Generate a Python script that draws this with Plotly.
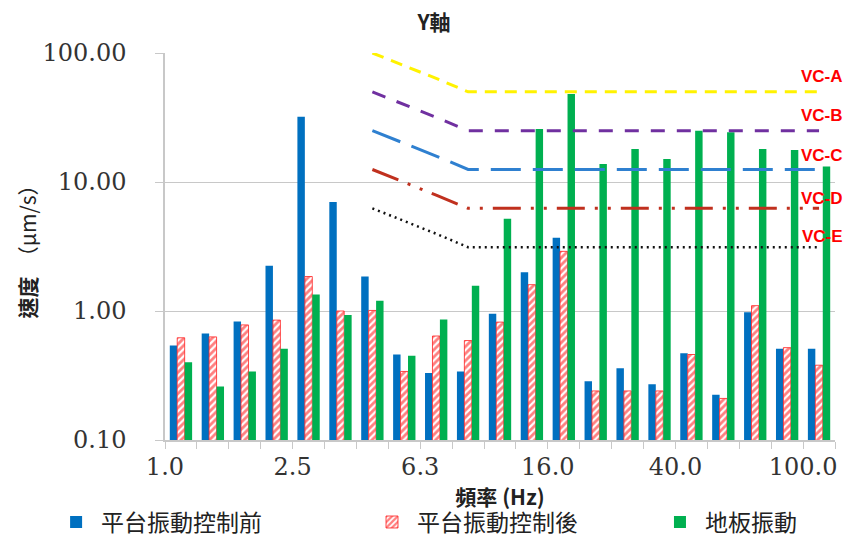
import math
import plotly.graph_objects as go

freqs = ["1.0", "1.25", "1.6", "2.0", "2.5", "3.15", "4.0", "5.0", "6.3", "8.0", "10.0",
         "12.5", "16.0", "20.0", "25.0", "31.5", "40.0", "50.0", "63.0", "80.0", "100.0"]
tick_labels = {"1.0": "1.0", "2.5": "2.5", "6.3": "6.3", "16.0": "16.0", "40.0": "40.0", "100.0": "100.0"}

before = [0.54, 0.67, 0.83, 2.24, 32.0, 7.0, 1.85, 0.46, 0.33, 0.34, 0.95,
          2.0, 3.7, 0.285, 0.36, 0.27, 0.47, 0.224, 0.98, 0.51, 0.51]
after = [0.62, 0.63, 0.78, 0.85, 1.85, 1.0, 1.01, 0.34, 0.64, 0.59, 0.82,
         1.6, 2.9, 0.24, 0.24, 0.24, 0.46, 0.21, 1.10, 0.52, 0.38]
floor = [0.40, 0.26, 0.34, 0.51, 1.34, 0.93, 1.2, 0.45, 0.86, 1.57, 5.2,
         25.8, 48.0, 13.8, 18.0, 15.1, 25.0, 24.3, 18.0, 17.7, 13.2]

vc_freqs = ["4.0", "5.0", "6.3", "8.0", "10.0", "12.5", "16.0", "20.0", "25.0", "31.5",
            "40.0", "50.0", "63.0", "80.0", "100.0"]
vc_a = [100, 80, 63.5, 50, 50, 50, 50, 50, 50, 50, 50, 50, 50, 50, 50]
vc_b = [50, 40, 31.7, 25, 25, 25, 25, 25, 25, 25, 25, 25, 25, 25, 25]
vc_c = [25, 20, 15.9, 12.5, 12.5, 12.5, 12.5, 12.5, 12.5, 12.5, 12.5, 12.5, 12.5, 12.5, 12.5]
vc_d = [12.5, 10, 7.9, 6.25, 6.25, 6.25, 6.25, 6.25, 6.25, 6.25, 6.25, 6.25, 6.25, 6.25, 6.25]
vc_e = [6.25, 5, 3.97, 3.12, 3.12, 3.12, 3.12, 3.12, 3.12, 3.12, 3.12, 3.12, 3.12, 3.12, 3.12]
vc_names = ["VC-A", "VC-B", "VC-C", "VC-D", "VC-E"]
vc_label_y = [66, 33, 16, 7.4, 3.8]

CJK = "Noto Sans CJK TC"
SERIF = "DejaVu Serif"

fig = go.Figure()
fig.add_trace(go.Bar(x=freqs, y=before, name="平台振動控制前", legend="legend",
                     marker=dict(color="#0070C0", line=dict(width=0))))
fig.add_trace(go.Bar(x=freqs, y=after, name="平台振動控制後", legend="legend2",
                     marker=dict(color="white",
                                 line=dict(color="#FF2020", width=0.8),
                                 pattern=dict(shape="/", fgcolor="#FF0000", bgcolor="white",
                                              size=5, solidity=0.55))))
fig.add_trace(go.Bar(x=freqs, y=floor, name="地板振動", legend="legend3",
                     marker=dict(color="#00B050", line=dict(width=0))))

styles = [
    ("#FFF200", "12px,8px", 3),
    ("#7030A0", "14px,12px", 3),
    ("#2F80D0", "30px,12px", 3),
    ("#C0301E", "28px,10px,3px,10px,3px,10px", 3),
    ("#111111", "2px,4px", 2.5),
]
for vals, (col, dash, w) in zip([vc_a, vc_b, vc_c, vc_d, vc_e], styles):
    fig.add_trace(go.Scatter(x=vc_freqs, y=vals, mode="lines", showlegend=False,
                             line=dict(color=col, dash=dash, width=w)))

for name, yv in zip(vc_names, vc_label_y):
    fig.add_annotation(x=1.015, xref="paper", y=math.log10(yv), yref="y", text=name,
                       showarrow=False, xanchor="right",
                       font=dict(family="Liberation Sans", size=17, color="#FF0000", weight="bold"))

legend_common = dict(orientation="h", xanchor="left", y=-0.212, yanchor="middle",
                     font=dict(family=CJK, size=23, color="#222"), itemwidth=40,
                     bgcolor="rgba(0,0,0,0)")

fig.update_layout(
    width=851, height=541,
    margin=dict(l=165, r=16, t=53, b=101, autoexpand=False),
    paper_bgcolor="white", plot_bgcolor="white",
    barmode="group", bargap=0.3, bargroupgap=0,
    title=dict(text="<b>Y軸</b>", x=0.51, xanchor="center", y=0.958, yanchor="middle",
               font=dict(family=CJK, size=21, color="#222")),
    legend=dict(x=-0.170, **legend_common),
    legend2=dict(x=0.3015, **legend_common),
    legend3=dict(x=0.7313, **legend_common),
    font=dict(family=SERIF, color="#333"),
)
fig.update_xaxes(
    type="category", categoryorder="array", categoryarray=freqs,
    tickmode="array", tickvals=freqs, ticktext=[tick_labels.get(f, "") for f in freqs],
    tickangle=0, automargin=False, ticklabelstandoff=4, ticklabelshift=-16,
    tickson="boundaries", ticks="outside", ticklen=7, tickcolor="#C8C8C8",
    showline=True, linecolor="#C8C8C8", linewidth=1.5, showgrid=False,
    tickfont=dict(family=SERIF, size=24, color="#333"),
    title=dict(text="<b>頻率 (Hz)</b>", standoff=3, font=dict(family=CJK, size=21, color="#222")),
)
fig.update_yaxes(
    type="log", range=[-1, 2], tickmode="array", tickvals=[0.1, 1, 10, 100],
    ticktext=["0.10", "1.00", "10.00", "100.00"], automargin=False,
    ticks="outside", ticklen=8, tickcolor="#C8C8C8", ticklabelstandoff=24,
    showline=True, linecolor="#C8C8C8", linewidth=1.5,
    showgrid=True, gridcolor="#C8C8C8", gridwidth=1.2,
    tickfont=dict(family=SERIF, size=24, color="#333"),
    title=dict(text="<b>速度</b>  （μm/s）", standoff=0, font=dict(family=CJK, size=21, color="#222")),
)

fig.write_html("out.html", config={"displayModeBar": False},
               post_script="document.body.style.margin='0px';document.body.style.overflow='hidden';")
